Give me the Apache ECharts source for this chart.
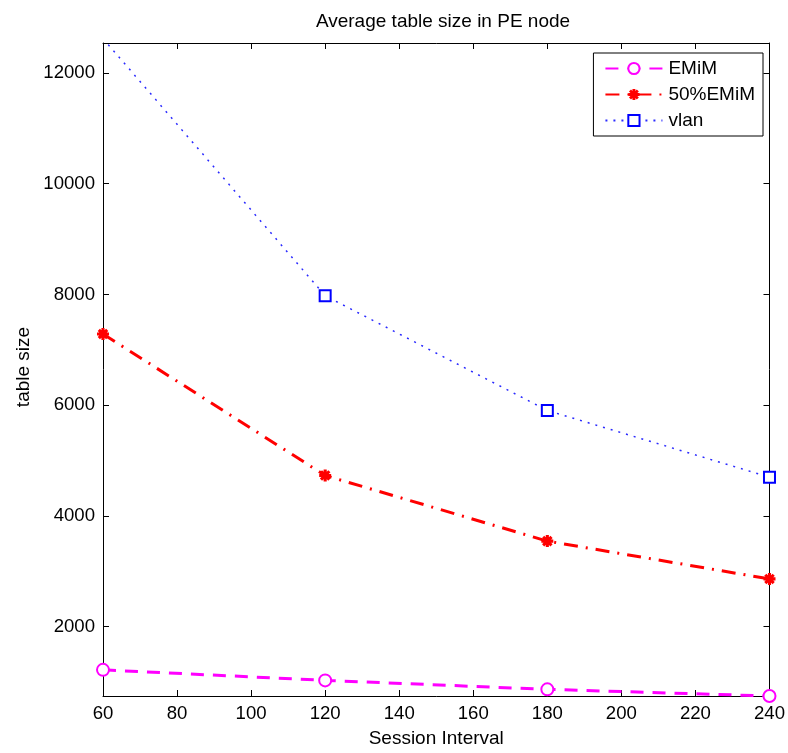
<!DOCTYPE html>
<html>
<head>
<meta charset="utf-8">
<script src="https://cdn.jsdelivr.net/npm/echarts@6/dist/echarts.min.js"></script>
<style>
  html, body { margin: 0; padding: 0; background: #fff; }
  #chart { width: 788px; height: 753px; }
</style>
</head>
<body>
<div id="chart"></div>
<script>
// Session intervals on the x axis
const sessionInterval = [60, 120, 180, 240];
// Average table size per scheme
const emim = [1220, 1030, 868, 748];
const halfEmim = [7285, 4730, 3545, 2862];
const vlan = [12620, 7976, 5904, 4700];
// Tick values
const yTicks = [2000, 4000, 6000, 8000, 10000, 12000];
const xTicks = [60, 80, 100, 120, 140, 160, 180, 200, 220, 240];

const yMin = 748, yMax = 12540;
const FONT = 'Liberation Sans, Arial, sans-serif';

// eight-arm asterisk marker
const asterisk = 'path://M-5,-1.3L5,-1.3L5,1.3L-5,1.3Z M-1.3,-5L1.3,-5L1.3,5L-1.3,5Z ' +
  'M-4.4,-2.6L-2.6,-4.4L4.4,2.6L2.6,4.4Z M2.6,-4.4L4.4,-2.6L-2.6,4.4L-4.4,2.6Z';

const pairs = ys => sessionInterval.map((x, i) => [x, ys[i]]);

const baseX = {
  type: 'value', min: 60, max: 240, interval: 20,
  axisLine: { show: true, onZero: false, lineStyle: { color: '#000', width: 1 } },
  axisTick: { inside: true, length: 6, lineStyle: { color: '#000' } },
  splitLine: { show: false }
};
const baseY = {
  type: 'value', min: yMin, max: yMax,
  axisLine: { show: true, onZero: false, lineStyle: { color: '#000', width: 1 } },
  axisTick: { inside: true, length: 6, customValues: yTicks, lineStyle: { color: '#000' } },
  splitLine: { show: false }
};

const chart = echarts.init(document.getElementById('chart'), null, { renderer: 'canvas' });
chart.setOption({
  animation: false,
  backgroundColor: '#fff',
  title: {
    text: 'Average table size in PE node',
    left: 438, top: 7, textAlign: 'center',
    textStyle: { fontFamily: FONT, fontSize: 19, fontWeight: 'normal', color: '#000' }
  },
  grid: { left: 103, right: 15, top: 43, bottom: 54, containLabel: false },
  xAxis: [
    Object.assign({}, baseX, {
      position: 'bottom',
      name: 'Session Interval', nameLocation: 'middle', nameGap: 33,
      nameTextStyle: { fontFamily: FONT, fontSize: 19, color: '#000' },
      axisLabel: { fontFamily: FONT, fontSize: 18.6, color: '#000', margin: 8,
                   customValues: xTicks, formatter: v => String(v) }
    }),
    Object.assign({}, baseX, { position: 'top', axisLabel: { show: false } })
  ],
  yAxis: [
    Object.assign({}, baseY, {
      position: 'left',
      axisLabel: { fontFamily: FONT, fontSize: 18.6, color: '#000', margin: 8,
                   customValues: yTicks, formatter: v => String(v) }
    }),
    Object.assign({}, baseY, { position: 'right', axisLabel: { show: false } })
  ],
  graphic: [{
    type: 'text', x: 24, y: 367, rotation: Math.PI / 2,
    style: { text: 'table size', font: '19px ' + FONT, fill: '#000',
             align: 'center', verticalAlign: 'middle' }
  }],
  legend: {
    orient: 'vertical', right: 25, top: 53,
    padding: [6, 8, 6, 11], itemGap: 7,
    itemWidth: 57, itemHeight: 14,
    backgroundColor: '#fff', borderColor: '#000', borderWidth: 1, borderRadius: 0,
    textStyle: { fontFamily: FONT, fontSize: 19, color: '#000', padding: [0, 0, 0, 1] },
    data: ['EMiM', '50%EMiM', 'vlan']
  },
  series: [
    {
      name: 'EMiM', type: 'line', data: pairs(emim), clip: false,
      symbol: 'emptyCircle', symbolSize: 12,
      lineStyle: { color: '#ff00ff', width: 3, type: [13, 9] },
      itemStyle: { color: '#ff00ff', borderColor: '#ff00ff', borderWidth: 2.5 }
    },
    {
      name: '50%EMiM', type: 'line', data: pairs(halfEmim), clip: false,
      symbol: asterisk, symbolSize: 12,
      lineStyle: { color: '#ff0000', width: 3, type: [14, 8, 2, 8] },
      itemStyle: { color: '#ff0000' }
    },
    {
      name: 'vlan', type: 'line', data: pairs(vlan), clip: true,
      symbol: 'emptyRect', symbolSize: 11,
      lineStyle: { color: '#2a2aff', width: 1.5, type: [2, 6] },
      itemStyle: { color: '#0000ff', borderColor: '#0000ff', borderWidth: 2.5 }
    }
  ]
});
</script>
</body>
</html>
